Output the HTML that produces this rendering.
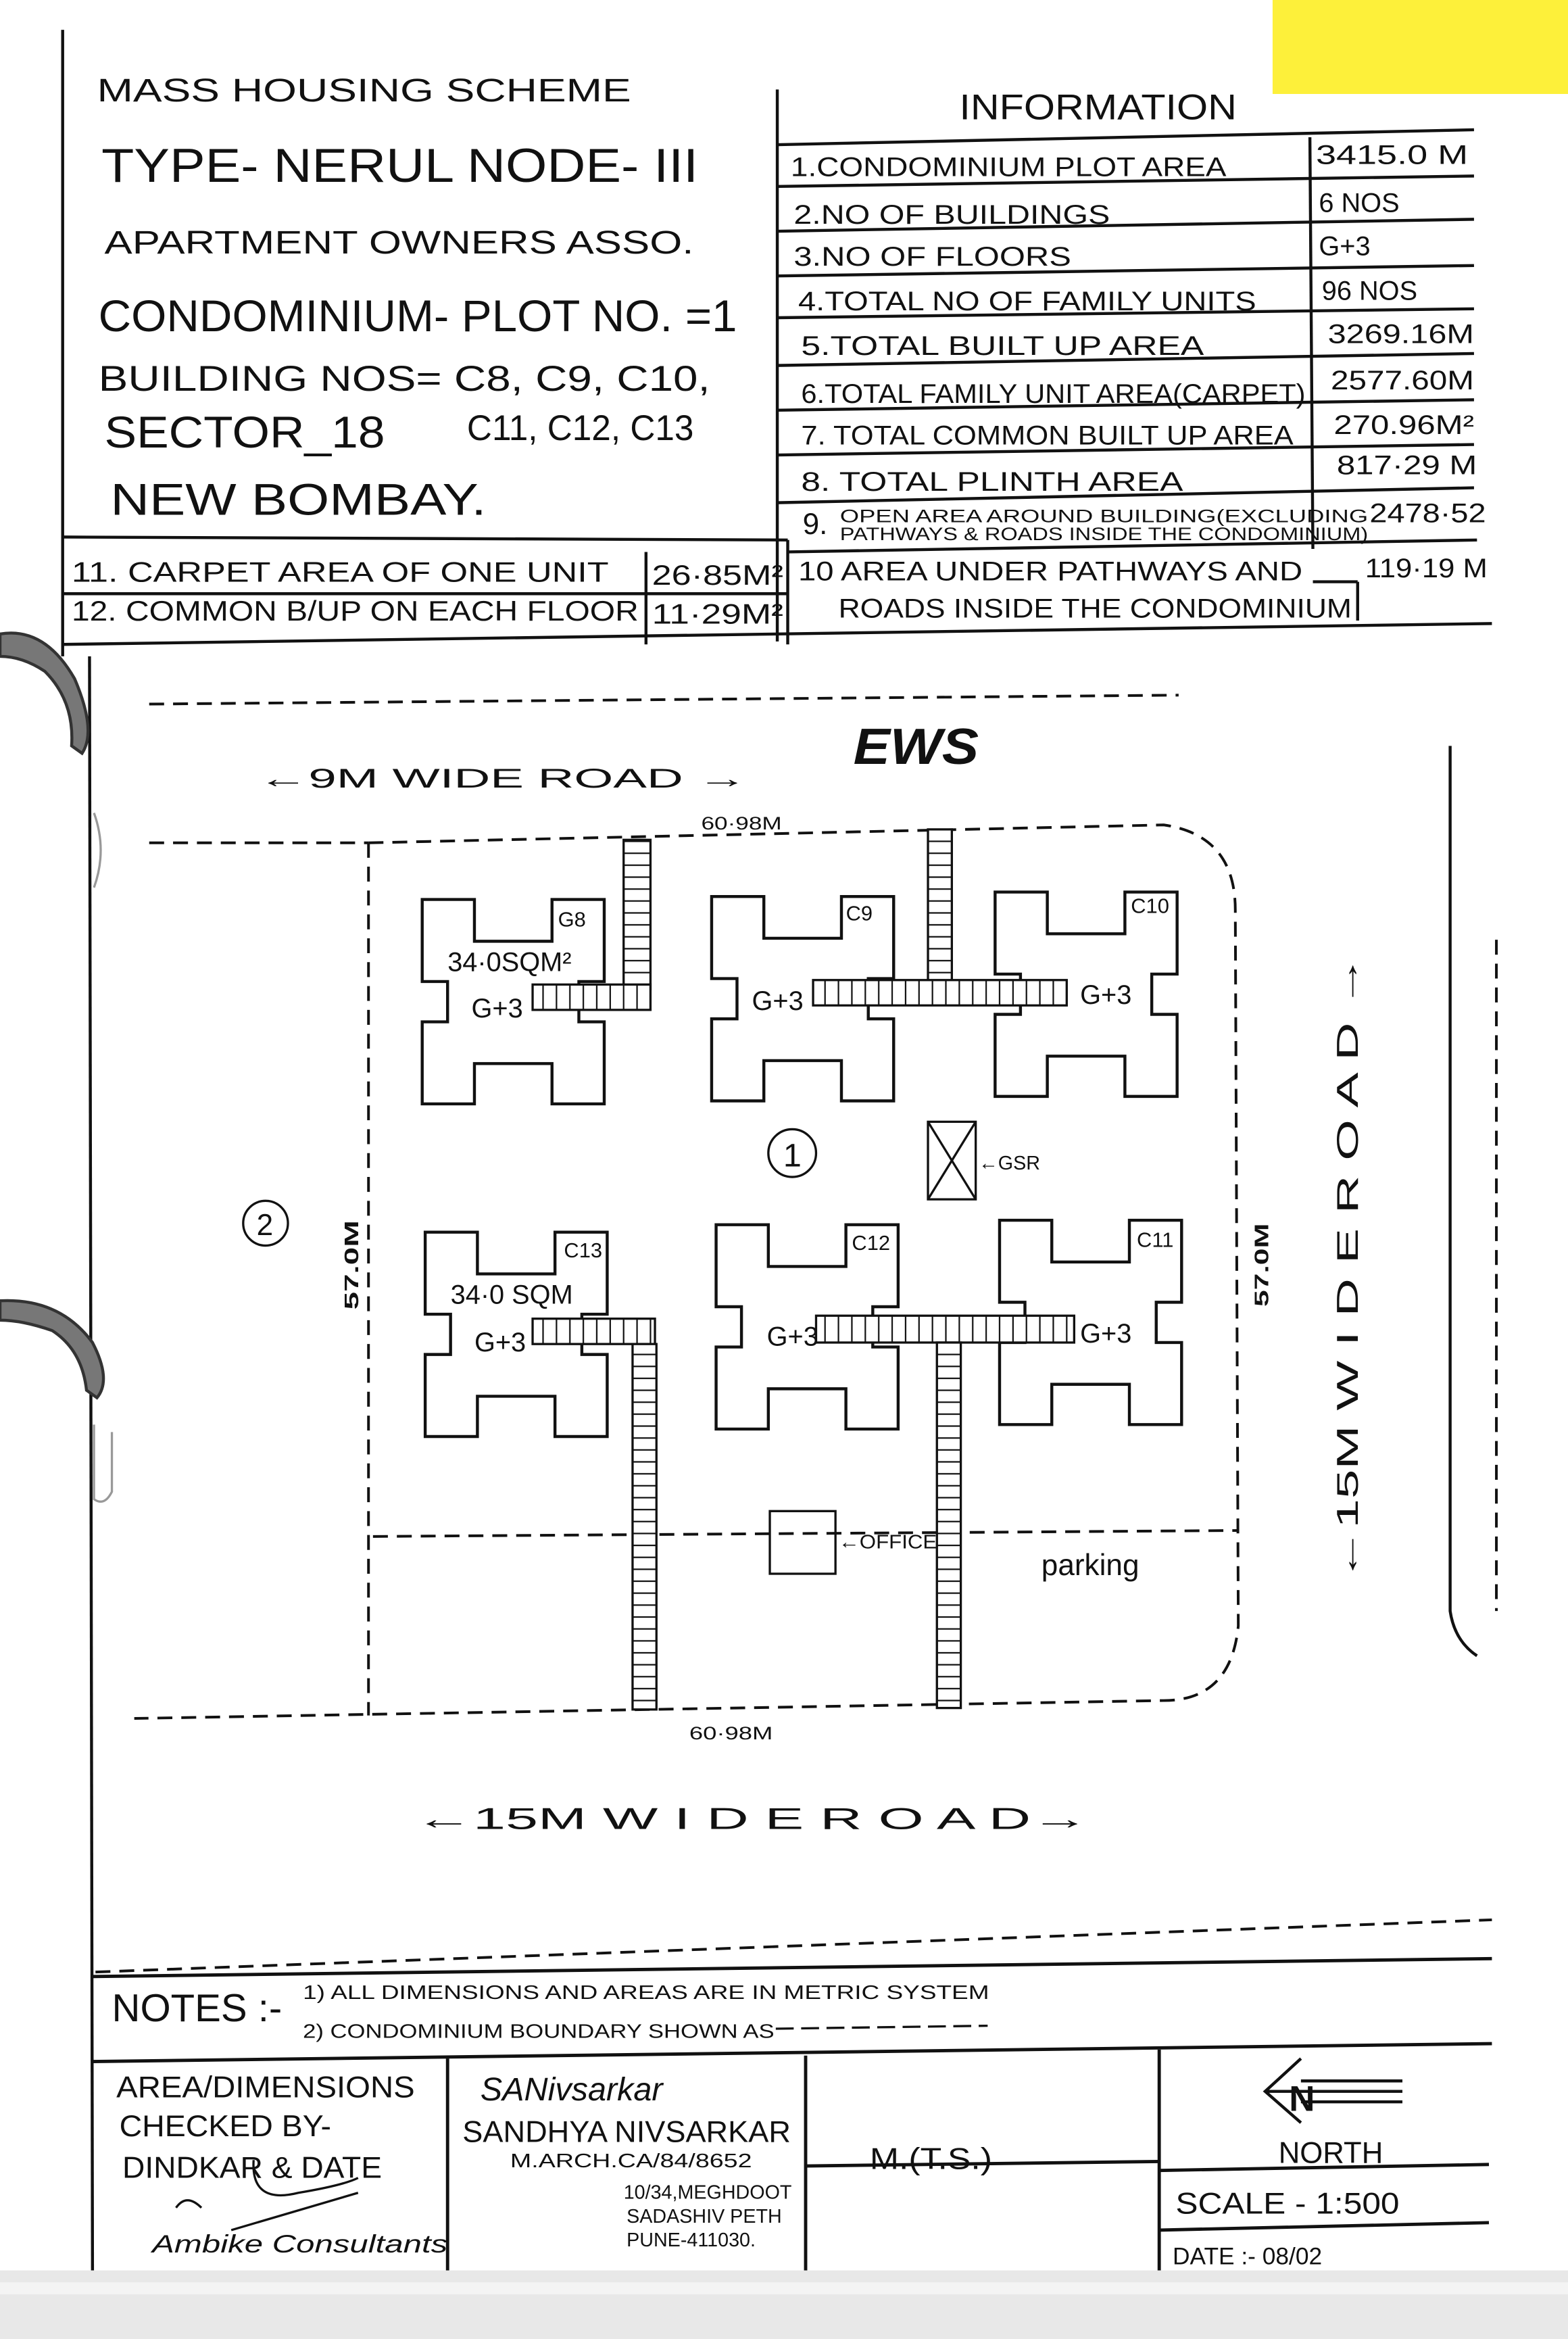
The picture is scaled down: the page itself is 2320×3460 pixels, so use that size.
<!DOCTYPE html>
<html><head><meta charset="utf-8"><style>
html,body{margin:0;padding:0;background:#fff;}
svg{display:block;}
text{font-family:"Liberation Sans",sans-serif;fill:#111;}
</style></head><body>
<svg width="2320" height="3460" viewBox="0 0 1051 1568" preserveAspectRatio="none" xmlns="http://www.w3.org/2000/svg">
<defs>
<pattern id="hl" patternUnits="userSpaceOnUse" width="20" height="8"><rect width="20" height="8" fill="#fff"/><line x1="0" y1="4" x2="20" y2="4" stroke="#111" stroke-width="1"/></pattern>
<pattern id="vl" patternUnits="userSpaceOnUse" width="9" height="20"><rect width="9" height="20" fill="#fff"/><line x1="4" y1="0" x2="4" y2="20" stroke="#111" stroke-width="1"/></pattern>
<path id="bld" d="M0,0 L35,0 L35,28 L87,28 L87,0 L122,0 L122,55 L105,55 L105,82 L122,82 L122,137 L87,137 L87,110 L35,110 L35,137 L0,137 L0,82 L17,82 L17,55 L0,55 Z" fill="none" stroke="#111" stroke-width="2"/>
</defs>
<rect width="1051" height="1568" fill="#fff"/>
<!-- bottom grey band -->
<rect x="0" y="1522" width="1051" height="46" fill="#e8e8e8"/>
<rect x="0" y="1530" width="1051" height="8" fill="#f4f4f4"/>
<!-- yellow note -->
<rect x="853" y="0" width="198" height="63" fill="#fdf03a"/>
<!-- frame -->
<g stroke="#111" stroke-width="2" fill="none">
<line x1="42" y1="20" x2="42" y2="440"/>
<line x1="60" y1="440" x2="62" y2="1522"/>
<line x1="521" y1="60" x2="521" y2="430"/>
<line x1="42" y1="360" x2="528" y2="362"/>
<line x1="42" y1="398" x2="528" y2="398"/>
<line x1="42" y1="432" x2="1000" y2="418"/>
<line x1="433" y1="370" x2="433" y2="432"/>
<line x1="528" y1="362" x2="528" y2="432"/>
<!-- info table -->
<line x1="521" y1="97" x2="988" y2="87"/>
<line x1="878" y1="92" x2="880" y2="368"/>
<line x1="521" y1="125" x2="988" y2="118"/>
<line x1="521" y1="155" x2="988" y2="147"/>
<line x1="521" y1="185" x2="988" y2="178"/>
<line x1="521" y1="213" x2="988" y2="207"/>
<line x1="521" y1="245" x2="988" y2="237"/>
<line x1="521" y1="275" x2="988" y2="268"/>
<line x1="521" y1="305" x2="988" y2="298"/>
<line x1="521" y1="337" x2="988" y2="327"/>
<line x1="528" y1="370" x2="990" y2="362"/>
<line x1="910" y1="390" x2="910" y2="416"/>
<line x1="880" y1="390" x2="910" y2="390"/>
</g>
<g>
<text x="65" y="68" font-size="22" textLength="358" lengthAdjust="spacingAndGlyphs">MASS HOUSING SCHEME</text>
<text x="68" y="122" font-size="32" textLength="400" lengthAdjust="spacingAndGlyphs">TYPE- NERUL NODE- III</text>
<text x="70" y="170" font-size="22" fill="#444" textLength="395" lengthAdjust="spacingAndGlyphs">APARTMENT OWNERS ASSO.</text>
<text x="66" y="222" font-size="30" textLength="428" lengthAdjust="spacingAndGlyphs">CONDOMINIUM- PLOT NO. =1</text>
<text x="66" y="262" font-size="24" fill="#444" textLength="410" lengthAdjust="spacingAndGlyphs">BUILDING  NOS= C8, C9, C10,</text>
<text x="70" y="300" font-size="30" textLength="188" lengthAdjust="spacingAndGlyphs">SECTOR_18</text>
<text x="313" y="295" font-size="24" textLength="152" lengthAdjust="spacingAndGlyphs">C11, C12, C13</text>
<text x="74" y="345" font-size="30" textLength="252" lengthAdjust="spacingAndGlyphs">NEW  BOMBAY.</text>
<text x="48" y="390" font-size="19" fill="#333" textLength="360" lengthAdjust="spacingAndGlyphs">11. CARPET AREA OF ONE UNIT</text>
<text x="437" y="392" font-size="19" textLength="88" lengthAdjust="spacingAndGlyphs">26·85M²</text>
<text x="48" y="416" font-size="19" textLength="380" lengthAdjust="spacingAndGlyphs">12. COMMON B/UP ON EACH FLOOR</text>
<text x="437" y="418" font-size="19" textLength="88" lengthAdjust="spacingAndGlyphs">11·29M²</text>
<text x="643" y="80" font-size="24" textLength="186" lengthAdjust="spacingAndGlyphs">INFORMATION</text>
<g font-size="18">
<text x="530" y="118" textLength="292" lengthAdjust="spacingAndGlyphs">1.CONDOMINIUM  PLOT  AREA</text>
<text x="882" y="110" textLength="102" lengthAdjust="spacingAndGlyphs">3415.0 M</text>
<text x="532" y="150" textLength="212" lengthAdjust="spacingAndGlyphs">2.NO  OF  BUILDINGS</text>
<text x="884" y="142">6 NOS</text>
<text x="532" y="178" textLength="186" lengthAdjust="spacingAndGlyphs">3.NO  OF  FLOORS</text>
<text x="884" y="171">G+3</text>
<text x="535" y="208" textLength="307" lengthAdjust="spacingAndGlyphs">4.TOTAL  NO OF FAMILY UNITS</text>
<text x="886" y="201">96 NOS</text>
<text x="537" y="238" textLength="270" lengthAdjust="spacingAndGlyphs">5.TOTAL  BUILT UP  AREA</text>
<text x="890" y="230" textLength="98" lengthAdjust="spacingAndGlyphs">3269.16M</text>
<text x="537" y="270" textLength="338" lengthAdjust="spacingAndGlyphs">6.TOTAL FAMILY UNIT AREA(CARPET)</text>
<text x="892" y="261" textLength="96" lengthAdjust="spacingAndGlyphs">2577.60M</text>
<text x="537" y="298" textLength="330" lengthAdjust="spacingAndGlyphs">7. TOTAL  COMMON  BUILT UP AREA</text>
<text x="894" y="291" textLength="94" lengthAdjust="spacingAndGlyphs">270.96M²</text>
<text x="537" y="329" textLength="256" lengthAdjust="spacingAndGlyphs">8. TOTAL  PLINTH  AREA</text>
<text x="896" y="318" textLength="94" lengthAdjust="spacingAndGlyphs">817·29 M</text>
<text x="538" y="358" font-size="20">9.</text>
<text x="563" y="350" font-size="12" textLength="354" lengthAdjust="spacingAndGlyphs">OPEN AREA  AROUND  BUILDING(EXCLUDING</text>
<text x="563" y="362" font-size="12" textLength="354" lengthAdjust="spacingAndGlyphs">PATHWAYS &amp; ROADS INSIDE THE CONDOMINIUM)</text>
<text x="918" y="350" textLength="78" lengthAdjust="spacingAndGlyphs">2478·52</text>
<text x="535" y="389" textLength="338" lengthAdjust="spacingAndGlyphs">10 AREA UNDER PATHWAYS AND</text>
<text x="915" y="387" textLength="82" lengthAdjust="spacingAndGlyphs">119·19 M</text>
<text x="562" y="414" textLength="344" lengthAdjust="spacingAndGlyphs">ROADS INSIDE THE CONDOMINIUM</text>
</g>
</g>
<!-- ring binders -->
<g fill="#777" stroke="#333" stroke-width="2">
<path d="M0,425 Q30,420 50,455 Q65,490 55,505 L48,500 Q50,470 30,450 Q15,440 0,440 Z"/>
<path d="M0,872 Q40,870 62,900 Q75,925 65,937 L58,932 Q55,905 35,892 Q15,885 0,885 Z"/>
</g>
<g stroke="#999" stroke-width="1.5" fill="none">
<path d="M63,545 Q72,570 63,595"/><path d="M63,955 L63,1005 Q70,1010 75,1000 L75,960"/>
</g>
<!-- site plan -->
<g stroke="#111" stroke-width="1.8" fill="none" stroke-dasharray="10,6">
<line x1="100" y1="472" x2="790" y2="466"/>
<line x1="100" y1="565" x2="247" y2="565"/>
<path d="M247,565 L780,553 Q828,560 828,610 L830,1090 Q825,1140 780,1140 L90,1152"/>
<line x1="247" y1="565" x2="247" y2="1150"/>
<line x1="250" y1="1030" x2="830" y2="1026"/>
<line x1="642" y1="1028" x2="642" y2="1142"/>
<line x1="64" y1="1322" x2="1000" y2="1287"/>
<line x1="1003" y1="630" x2="1003" y2="1080"/>
</g>
<g stroke="#111" stroke-width="2" fill="none">
<path d="M972,500 L972,1080 Q975,1100 990,1110"/>
</g>
<text x="470" y="556" font-size="12" textLength="54" lengthAdjust="spacingAndGlyphs">60·98M</text>
<text x="462" y="1166" font-size="12" textLength="56" lengthAdjust="spacingAndGlyphs">60·98M</text>
<text x="173" y="528" font-size="18" textLength="328" lengthAdjust="spacingAndGlyphs">←9M WIDE ROAD →</text>
<text x="572" y="512" font-size="34" font-weight="bold" font-style="italic" textLength="84" lengthAdjust="spacingAndGlyphs">EWS</text>
<text x="278" y="1226" font-size="20" textLength="452" lengthAdjust="spacingAndGlyphs">←15M  W I D E   R O A D→</text>
<text transform="translate(910,1060) rotate(-90)" font-size="20" textLength="420" lengthAdjust="spacingAndGlyphs">←15M  W I D E   R O A D →</text>
<text transform="translate(240,878) rotate(-90)" font-size="13" font-weight="bold" textLength="60" lengthAdjust="spacingAndGlyphs">57.0M</text>
<text transform="translate(850,876) rotate(-90)" font-size="13" font-weight="bold" textLength="56" lengthAdjust="spacingAndGlyphs">57.0M</text>
<circle cx="178" cy="820" r="15" fill="none" stroke="#111" stroke-width="1.5"/>
<text x="172" y="828" font-size="20">2</text>
<circle cx="531" cy="773" r="16" fill="none" stroke="#111" stroke-width="1.5"/>
<text x="525" y="782" font-size="22">1</text>
<!-- GSR -->
<g stroke="#111" stroke-width="1.5" fill="none">
<rect x="622" y="752" width="32" height="52"/>
<line x1="622" y1="752" x2="654" y2="804"/><line x1="654" y1="752" x2="622" y2="804"/>
<rect x="516" y="1013" width="44" height="42"/>
</g>
<text x="656" y="784" font-size="13">←GSR</text>
<text x="562" y="1038" font-size="13" textLength="66" lengthAdjust="spacingAndGlyphs">←OFFICE</text>
<text x="698" y="1056" font-size="20">parking</text>
<!-- buildings -->
<use href="#bld" x="283" y="603"/>
<use href="#bld" x="477" y="601"/>
<use href="#bld" x="667" y="598"/>
<use href="#bld" x="285" y="826"/>
<use href="#bld" x="480" y="821"/>
<use href="#bld" x="670" y="818"/>
<!-- ladders -->
<g stroke="#111" stroke-width="1.5">
<rect x="418" y="563" width="18" height="100" fill="url(#hl)"/>
<rect x="357" y="660" width="79" height="17" fill="url(#vl)"/>
<rect x="622" y="556" width="16" height="102" fill="url(#hl)"/>
<rect x="545" y="657" width="170" height="17" fill="url(#vl)"/>
<rect x="357" y="884" width="82" height="17" fill="url(#vl)"/>
<rect x="424" y="901" width="16" height="245" fill="url(#hl)"/>
<rect x="547" y="882" width="173" height="18" fill="url(#vl)"/>
<rect x="628" y="900" width="16" height="245" fill="url(#hl)"/>
</g>
<g font-size="14">
<text x="374" y="621">G8</text><text x="567" y="617">C9</text><text x="758" y="612">C10</text>
<text x="378" y="843">C13</text><text x="571" y="838">C12</text><text x="762" y="836">C11</text>
</g>
<g font-size="18">
<text x="300" y="651">34·0SQM²</text><text x="302" y="874">34·0 SQM</text>
<text x="316" y="682">G+3</text><text x="504" y="677">G+3</text><text x="724" y="673">G+3</text>
<text x="318" y="906">G+3</text><text x="514" y="902">G+3</text><text x="724" y="900">G+3</text>
</g>
<!-- bottom title block -->
<g stroke="#111" stroke-width="2.2" fill="none">
<line x1="62" y1="1325" x2="1000" y2="1313"/>
<line x1="62" y1="1382" x2="1000" y2="1370"/>
<line x1="300" y1="1380" x2="300" y2="1522"/>
<line x1="540" y1="1378" x2="540" y2="1522"/>
<line x1="777" y1="1374" x2="777" y2="1522"/>
<line x1="540" y1="1452" x2="777" y2="1449"/>
<line x1="777" y1="1455" x2="998" y2="1451"/>
<line x1="777" y1="1495" x2="998" y2="1490"/>
</g>
<text x="75" y="1355" font-size="26" textLength="114" lengthAdjust="spacingAndGlyphs">NOTES :-</text>
<text x="203" y="1340" font-size="13" textLength="460" lengthAdjust="spacingAndGlyphs">1) ALL DIMENSIONS  AND  AREAS  ARE  IN  METRIC  SYSTEM</text>
<text x="203" y="1366" font-size="13" textLength="316" lengthAdjust="spacingAndGlyphs">2) CONDOMINIUM  BOUNDARY  SHOWN  AS</text>
<line x1="520" y1="1360" x2="662" y2="1358" stroke="#111" stroke-width="1.5" stroke-dasharray="12,5"/>
<g font-size="20">
<text x="78" y="1406" textLength="200" lengthAdjust="spacingAndGlyphs">AREA/DIMENSIONS</text>
<text x="80" y="1432" textLength="142" lengthAdjust="spacingAndGlyphs">CHECKED BY-</text>
<text x="82" y="1460" textLength="174" lengthAdjust="spacingAndGlyphs">DINDKAR &amp; DATE</text>
<text x="310" y="1436" textLength="220" lengthAdjust="spacingAndGlyphs">SANDHYA NIVSARKAR</text>
<text x="583" y="1454" textLength="82" lengthAdjust="spacingAndGlyphs">M.(T.S.)</text>
<text x="857" y="1450" textLength="70" lengthAdjust="spacingAndGlyphs">NORTH</text>
<text x="788" y="1484" textLength="150" lengthAdjust="spacingAndGlyphs">SCALE - 1:500</text>
</g>
<text x="342" y="1453" font-size="13" textLength="162" lengthAdjust="spacingAndGlyphs">M.ARCH.CA/84/8652</text>
<g font-size="13">
<text x="418" y="1474">10/34,MEGHDOOT</text>
<text x="420" y="1490">SADASHIV PETH</text>
<text x="420" y="1506">PUNE-411030.</text>
</g>
<text x="102" y="1510" font-size="17" font-style="italic" textLength="198" lengthAdjust="spacingAndGlyphs">Ambike Consultants</text>
<text x="322" y="1408" font-size="22" font-style="italic" fill="#333">SANivsarkar</text>
<path d="M118,1480 Q125,1470 135,1480 M170,1448 Q168,1478 200,1470 Q230,1465 240,1460 M155,1495 L240,1470" stroke="#111" stroke-width="1.5" fill="none"/>
<!-- north arrow -->
<g stroke="#111" stroke-width="2" fill="none">
<path d="M872,1380 L848,1402 L872,1423 M848,1402 L940,1402 M872,1395 L940,1395 M872,1409 L940,1409"/>
</g>
<text x="864" y="1415" font-size="24" font-weight="bold">N</text>
<text x="786" y="1518" font-size="16" fill="#333">DATE :- 08/02</text>
</svg>
</body></html>
